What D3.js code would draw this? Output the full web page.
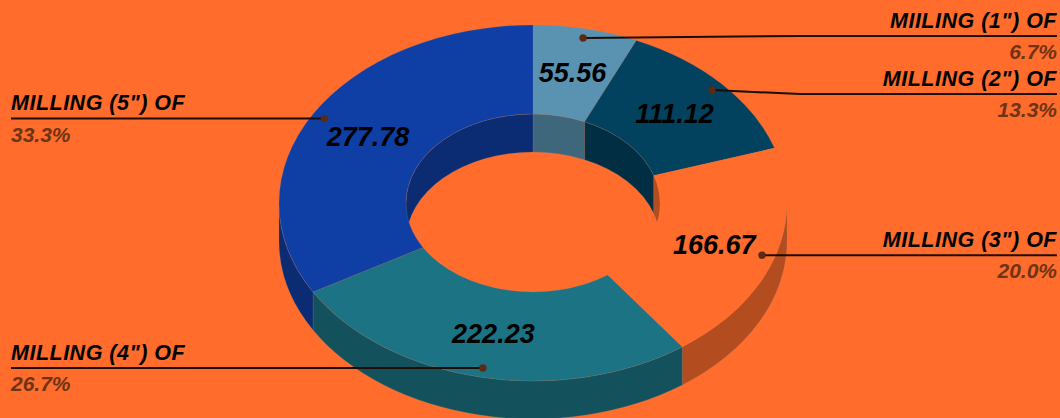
<!DOCTYPE html>
<html>
<head>
<meta charset="utf-8">
<script src="https://cdnjs.cloudflare.com/ajax/libs/d3/7.8.5/d3.min.js"></script>
<style>
    html, body { margin: 0; padding: 0; background: #ff6c2c; overflow: hidden; }
    svg { display: block; }
    text { font-family: "Liberation Sans", Arial, sans-serif; font-style: italic; }
</style>
</head>
<body>
<svg id="chart" width="1060" height="418"></svg>
<script>
const categories = ['MIILING (1") OF', 'MILLING (2") OF', 'MILLING (3") OF', 'MILLING (4") OF', 'MILLING (5") OF'];
const values = [55.56, 111.12, 166.67, 222.23, 277.78];
const valueLabels = ["55.56", "111.12", "166.67", "222.23", "277.78"];
const percentLabels = ["6.7%", "13.3%", "20.0%", "26.7%", "33.3%"];
const colors = ["#5a93b1", "#03425f", "#ff6c2c", "#1b7384", "#0f3ea5"];

const width = 1060;
const height = 418;
const cx = 533;
const cy = 203;
const outerR = 254;
const innerR = 127;
const tilt = 178 / 254; // 椭圆压缩比
const depth = 38 / tilt; // 侧壁高度 (未压缩)
const bg = "#ff6c2c";

const svg = d3.select("#chart");
svg.append("rect").attr("width", width).attr("height", height).attr("fill", bg);

const donut = svg.append("g").attr("transform", `translate(${cx}, ${cy}) scale(1, ${tilt})`);

const pie = d3.pie().sort(null).value(d => d)(values);
const arc = d3.arc().innerRadius(innerR).outerRadius(outerR);
const bulletArc = d3.arc().innerRadius(240.8).outerRadius(240.8);

// 侧壁: 同一椭圆弧上下平移 depth
function wall(radius, a0, a1) {
    const p = d3.path();
    p.arc(0, 0, radius, a0 - Math.PI / 2, a1 - Math.PI / 2);
    p.arc(0, depth, radius, a1 - Math.PI / 2, a0 - Math.PI / 2, true);
    p.closePath();
    return p.toString();
}

const wallColor = c => {
    const r = d3.rgb(c);
    return d3.rgb(r.r * 0.7, r.g * 0.7, r.b * 0.7).formatHex();
};

const edge = sel => sel
    .attr("stroke", "#8c8c8c")
    .attr("stroke-opacity", 0.35)
    .attr("stroke-width", 0.6)
    .attr("vector-effect", "non-scaling-stroke");

// 外壁只有前半圈可见
pie.forEach((d, i) => {
    const a0 = Math.max(d.startAngle, Math.PI / 2);
    const a1 = Math.min(d.endAngle, Math.PI * 1.5);
    if (a1 > a0) {
        donut.append("path").attr("d", wall(outerR, a0, a1)).attr("fill", wallColor(colors[i])).call(edge);
    }
});

// 内壁只有后半圈可见
pie.forEach((d, i) => {
    const ranges = [
        [d.startAngle, Math.min(d.endAngle, Math.PI / 2)],
        [Math.max(d.startAngle, Math.PI * 1.5), d.endAngle]
    ];
    ranges.filter(r => r[1] > r[0]).forEach(r => {
        donut.append("path").attr("d", wall(innerR, r[0], r[1])).attr("fill", wallColor(colors[i])).call(edge);
    });
});

// 顶面 (橙色扇区与背景同色，不描边)
donut.selectAll(".slice")
    .data(pie)
    .enter()
    .append("path")
    .attr("class", "slice")
    .attr("d", arc)
    .attr("fill", (d, i) => colors[i])
    .call(edge)
    .attr("stroke", (d, i) => colors[i] === bg ? "none" : "#8c8c8c");

const project = ([x, y]) => [cx + x, cy + y * tilt];

// 引线的版面位置
const labelLeft = 11;
const labelRight = 1057;
const kneeRight = 800;
const leaderY = [36, 94, null, null, null];

pie.forEach((d, i) => {
    const [bx, by] = project(bulletArc.centroid(d));
    const isRight = (d.startAngle + d.endAngle) / 2 < Math.PI;
    const endX = isRight ? labelRight : labelLeft;
    const endY = leaderY[i] === null ? by : leaderY[i];
    const pts = isRight ? [[bx, by], [kneeRight, endY], [endX, endY]] : [[bx, by], [endX, endY]];

    svg.append("path")
        .attr("d", d3.line()(pts))
        .attr("fill", "none")
        .attr("stroke", "#1c0c04")
        .attr("stroke-width", 2);

    svg.append("circle")
        .attr("cx", bx)
        .attr("cy", by)
        .attr("r", 3.7)
        .attr("fill", "#5c2a12");

    svg.append("text")
        .attr("x", endX)
        .attr("y", endY - 8.5)
        .attr("text-anchor", isRight ? "end" : "start")
        .attr("font-size", 21.5)
        .attr("font-weight", "bold")
        .attr("letter-spacing", 0.5)
        .attr("fill", "#000")
        .text(categories[i]);

    svg.append("text")
        .attr("x", endX)
        .attr("y", endY + 23)
        .attr("text-anchor", isRight ? "end" : "start")
        .attr("font-size", 21)
        .attr("font-weight", "bold")
        .attr("fill", "#6e3415")
        .text(percentLabels[i]);

    const [tx, ty] = project(arc.centroid(d));
    svg.append("text")
        .attr("x", tx)
        .attr("y", ty + 9.5)
        .attr("text-anchor", "middle")
        .attr("font-size", 27)
        .attr("font-weight", "bold")
        .attr("fill", "#000")
        .text(valueLabels[i]);
});
</script>
</body>
</html>
